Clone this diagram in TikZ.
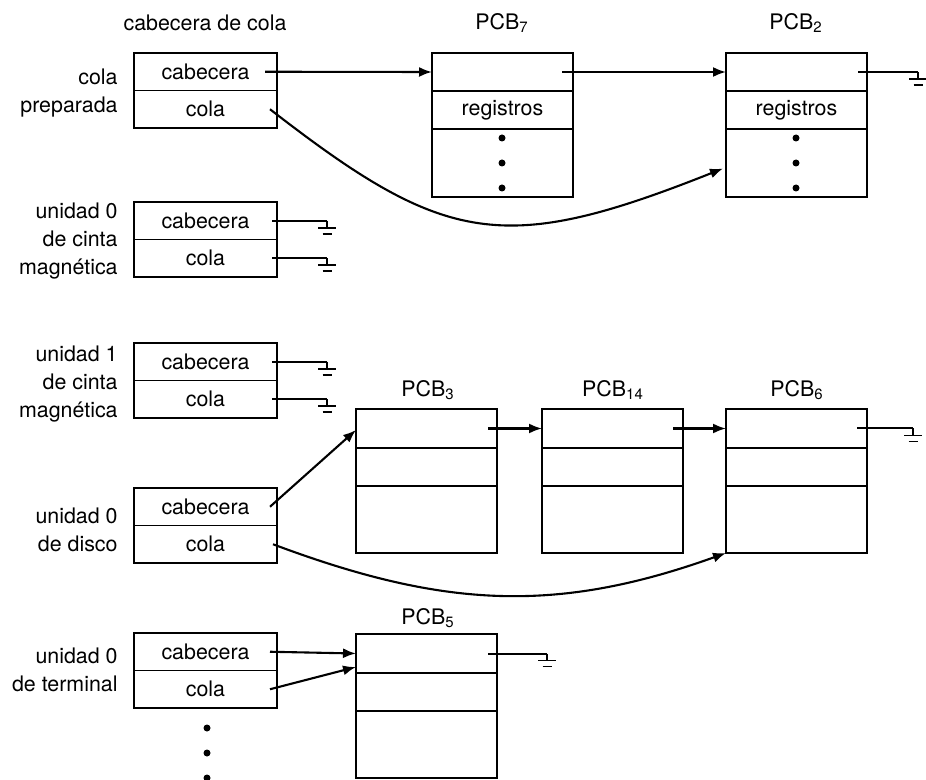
\documentclass[tikz,border=0pt]{standalone}
\usepackage{fontspec}
\setmainfont{TeX Gyre Heros}
\usetikzlibrary{arrows.meta}
\begin{document}
\begin{tikzpicture}[x=0.5pt,y=-0.5pt,
  font=\fontsize{10.7}{14}\selectfont,
  qrow/.style={draw, line width=0.85pt, inner sep=0pt, outer sep=0pt, minimum width=71.5pt, minimum height=18.75pt},
  prow/.style={draw, line width=0.85pt, inner sep=0pt, outer sep=0pt, minimum width=70.5pt, minimum height=#1},
  lbl/.style={align=right, inner sep=0pt, anchor=east},
  ttl/.style={inner sep=0pt},
  ptr/.style={-{Latex[length=6.5pt,width=5pt]}, line width=1.05pt},
  nil/.style={line width=1pt},
  dot/.style={circle, fill, inner sep=0pt, minimum size=3.5pt},
  gnd/.pic={\draw[line width=0.9pt] (0,0) -- (0,7) (-9,7) -- (9,7) (-4.5,13) -- (4.5,13);}
]
\useasboundingbox (0,0) rectangle (926,780);

% ---------- queue headers (left) ----------
\node[ttl] (hdr) at (205,23) {cabecera de cola};

\node[qrow, anchor=north west] (q1a) at (134,53) {cabecera};
\node[qrow, anchor=north] (q1b) at (q1a.south) {cola};
\node[lbl] (l1) at (118,93) {cola\\preparada};

\node[qrow, anchor=north west] (q2a) at (134,202) {cabecera};
\node[qrow, anchor=north] (q2b) at (q2a.south) {cola};
\node[lbl] (l2) at (118,241) {unidad 0\\de cinta\\magnética};

\node[qrow, anchor=north west] (q3a) at (134,343) {cabecera};
\node[qrow, anchor=north] (q3b) at (q3a.south) {cola};
\node[lbl] (l3) at (118,384) {unidad 1\\de cinta\\magnética};

\node[qrow, anchor=north west] (q4a) at (134,488) {cabecera};
\node[qrow, anchor=north] (q4b) at (q4a.south) {cola};
\node[lbl] (l4) at (118,530) {unidad 0\\de disco};

\node[qrow, anchor=north west] (q5a) at (134,633) {cabecera};
\node[qrow, anchor=north] (q5b) at (q5a.south) {cola};
\node[lbl] (l5) at (118,670) {unidad 0\\de terminal};

\node[dot] (v1) at (207,728) {};
\node[dot] (v2) at (207,753) {};
\node[dot] (v3) at (207,778) {};

% ---------- PCB7 and PCB2 ----------
\node[ttl] (t7) at (502,23) {PCB\textsubscript{7}};
\node[prow=19pt, anchor=north west] (p7a) at (432,53) {};
\node[prow=19pt, anchor=north] (p7b) at (p7a.south) {registros};
\node[prow=34pt, anchor=north] (p7c) at (p7b.south) {};
\node[dot] (p7d1) at (502,138) {};
\node[dot] (p7d2) at (502,163) {};
\node[dot] (p7d3) at (502,188) {};

\node[ttl] (t2) at (796,23) {PCB\textsubscript{2}};
\node[prow=19pt, anchor=north west] (p2a) at (726,53) {};
\node[prow=19pt, anchor=north] (p2b) at (p2a.south) {registros};
\node[prow=34pt, anchor=north] (p2c) at (p2b.south) {};
\node[dot] (p2d1) at (796,138) {};
\node[dot] (p2d2) at (796,163) {};
\node[dot] (p2d3) at (796,188) {};

% ---------- PCB3, PCB14, PCB6 ----------
\node[ttl] (t3) at (428,390) {PCB\textsubscript{3}};
\node[prow=19.5pt, anchor=north west] (p3a) at (356,409) {};
\node[prow=19pt, anchor=north] (p3b) at (p3a.south) {};
\node[prow=33.5pt, anchor=north] (p3c) at (p3b.south) {};

\node[ttl] (t14) at (613,390) {PCB\textsubscript{14}};
\node[prow=19.5pt, anchor=north west] (p14a) at (542,409) {};
\node[prow=19pt, anchor=north] (p14b) at (p14a.south) {};
\node[prow=33.5pt, anchor=north] (p14c) at (p14b.south) {};

\node[ttl] (t6) at (797,390) {PCB\textsubscript{6}};
\node[prow=19.5pt, anchor=north west] (p6a) at (726,409) {};
\node[prow=19pt, anchor=north] (p6b) at (p6a.south) {};
\node[prow=33.5pt, anchor=north] (p6c) at (p6b.south) {};

% ---------- PCB5 ----------
\node[ttl] (t5) at (428,618) {PCB\textsubscript{5}};
\node[prow=19.5pt, anchor=north west] (p5a) at (356,634) {};
\node[prow=19pt, anchor=north] (p5b) at (p5a.south) {};
\node[prow=33.5pt, anchor=north] (p5c) at (p5b.south) {};

% ---------- ground ends ----------
\coordinate (g2a) at ([xshift=25pt]q2a.east);
\coordinate (g2b) at ([xshift=25pt]q2b.east);
\coordinate (g3a) at ([xshift=25pt]q3a.east);
\coordinate (g3b) at ([xshift=25pt]q3b.east);
\coordinate (gp2) at ([xshift=25.5pt]p2a.east);
\coordinate (gp6) at ([xshift=23pt]p6a.east);
\coordinate (gp5) at ([xshift=25pt]p5a.east);

\draw[nil] ([xshift=-2.5pt]q2a.east) -- (g2a) pic{gnd};
\draw[nil] ([xshift=-2.5pt]q2b.east) -- (g2b) pic{gnd};
\draw[nil] ([xshift=-2.5pt]q3a.east) -- (g3a) pic{gnd};
\draw[nil] ([xshift=-2.5pt]q3b.east) -- (g3b) pic{gnd};
\draw[nil] ([xshift=-4.5pt]p2a.east) -- (gp2) pic{gnd};
\draw[nil] ([xshift=-5pt]p6a.east) -- (gp6) pic{gnd};
\draw[nil] ([xshift=-4.5pt]p5a.east) -- (gp5) pic{gnd};

% ---------- pointers ----------
\draw[ptr] ([xshift=-6pt]q1a.east) -- (p7a.west);
\draw[ptr] ([xshift=-5.5pt]p7a.east) -- (p2a.west);
\draw[ptr] ([xshift=-3.5pt]q1b.east) .. controls (445,245) and (503,256) .. ([xshift=-1.5pt,yshift=-2.75pt]p2c.west);

\draw[ptr] ([xshift=-3.5pt]q4a.east) -- ([yshift=-0.75pt]p3a.west);
\draw[ptr] ([xshift=-4.5pt]p3a.east) -- (p14a.west);
\draw[ptr] ([xshift=-5pt]p14a.east) -- (p6a.west);
\draw[ptr] ([xshift=-2pt]q4b.east) .. controls (443,608) and (556,614) .. (p6c.south west);

\draw[ptr] ([xshift=-3.5pt]q5a.east) -- (p5a.west);
\draw[ptr] ([xshift=-3.5pt]q5b.east) -- ([yshift=-6.75pt]p5a.west);
\end{tikzpicture}
\end{document}
